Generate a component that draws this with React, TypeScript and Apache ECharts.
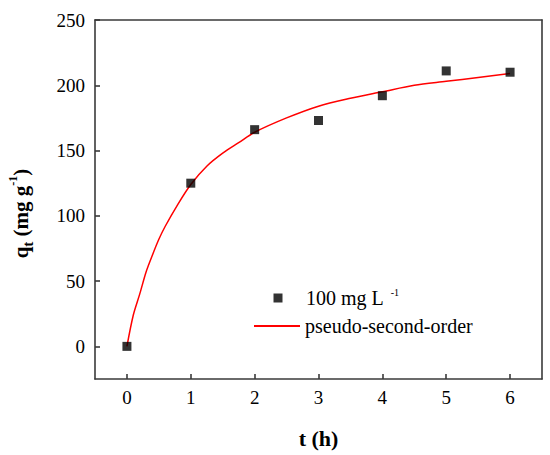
import React, { useEffect, useRef } from "react";
import * as echarts from "echarts";

const seriesNames = ["100 mg L", "pseudo-second-order"];
const timeH = [0, 1, 2, 3, 4, 5, 6];
const qtMeasured = [0, 125, 166, 173, 192, 211, 210];
const fitTime = [0, 0.1, 0.2, 0.3, 0.4, 0.5, 0.6, 0.8, 1.0, 1.25, 1.5, 1.75, 2.0, 2.5, 3.0, 3.5, 4.0, 4.5, 5.0, 5.5, 6.0];
const fitQt = [0, 24, 40, 57, 70, 82, 92, 109, 124, 138, 148, 156, 164, 175, 184, 190, 195, 200, 203, 206, 209];
const xTicks = [0, 1, 2, 3, 4, 5, 6];
const yTicks = [0, 50, 100, 150, 200, 250];

const FONT = "Liberation Serif";
const AXIS_COLOR = "#3a3a3a";

export default function App() {
  const ref = useRef<HTMLDivElement>(null);
  useEffect(() => {
    if (!ref.current) return;
    const chart = echarts.init(ref.current, null, { renderer: "svg" });
    const axisLine = { show: true, onZero: false, lineStyle: { color: AXIS_COLOR, width: 1.6 } };
    const tickStyle = { color: AXIS_COLOR, width: 1.6 };
    chart.setOption({
      animation: false,
      backgroundColor: "#ffffff",
      textStyle: { fontFamily: FONT },
      grid: { left: 95, top: 20, right: 8, bottom: 76, containLabel: false, outerBoundsMode: "none" },
      legend: [
        {
          data: [{ name: seriesNames[0], icon: "path://M0 0H10V10H0Z" }],
          left: 273.5,
          top: 287,
          padding: 0,
          itemWidth: 46,
          itemHeight: 9,
          selectedMode: false,
          formatter: (n: string) => `{n|${n} }{s|-1}`,
          textStyle: {
            fontFamily: FONT,
            color: "#000",
            rich: {
              n: { fontFamily: FONT, fontSize: 20, color: "#000", lineHeight: 22 },
              s: { fontFamily: FONT, fontSize: 10, color: "#000", lineHeight: 22, verticalAlign: "top", padding: [0, 0, 0, 2] },
            },
          },
        },
        {
          data: [{ name: seriesNames[1], icon: "path://M0 0H46V2H0Z" }],
          left: 254,
          top: 315,
          padding: 0,
          itemWidth: 46,
          itemHeight: 22,
          selectedMode: false,
          textStyle: { fontFamily: FONT, fontSize: 20, color: "#000", lineHeight: 22 },
        },
      ],
      xAxis: [
        {
          type: "value",
          min: -0.5,
          max: 6.5,
          position: "bottom",
          axisLine,
          splitLine: { show: false },
          axisTick: { show: true, inside: true, length: 5, customValues: xTicks, lineStyle: tickStyle },
          axisLabel: { customValues: xTicks, fontFamily: FONT, fontSize: 19, color: "#000", margin: 9 },
          name: "t (h)",
          nameLocation: "middle",
          nameGap: 48,
          nameTextStyle: { fontFamily: FONT, fontSize: 22, fontWeight: "bold", color: "#000" },
        },
        {
          type: "value",
          min: -0.5,
          max: 6.5,
          position: "top",
          axisLine,
          splitLine: { show: false },
          axisTick: { show: false },
          axisLabel: { show: false },
        },
      ],
      yAxis: [
        {
          type: "value",
          min: -25,
          max: 250,
          position: "left",
          axisLine,
          splitLine: { show: false },
          axisTick: { show: true, inside: true, length: 5, customValues: yTicks, lineStyle: tickStyle },
          axisLabel: { customValues: yTicks, fontFamily: FONT, fontSize: 19, color: "#000", margin: 10 },
          name: "{q|q}{sub|t}{n| (mg g}{sup|-1}{n|)}",
          nameLocation: "middle",
          nameRotate: 90,
          nameGap: 60,
          nameTextStyle: {
            fontFamily: FONT,
            color: "#000",
            padding: [0, 28, 0, 0],
            rich: {
              q: { fontFamily: FONT, fontSize: 21, fontWeight: "bold", color: "#000", lineHeight: 28 },
              n: { fontFamily: FONT, fontSize: 21, fontWeight: "bold", color: "#000", lineHeight: 28 },
              sub: { fontFamily: FONT, fontSize: 15, fontWeight: "bold", color: "#000", lineHeight: 28, verticalAlign: "bottom" },
              sup: { fontFamily: FONT, fontSize: 12, fontWeight: "bold", color: "#000", lineHeight: 28, verticalAlign: "top" },
            },
          },
        },
        {
          type: "value",
          min: -25,
          max: 250,
          position: "right",
          axisLine,
          splitLine: { show: false },
          axisTick: { show: false },
          axisLabel: { show: false },
        },
      ],
      series: [
        {
          name: seriesNames[1],
          type: "line",
          data: fitTime.map((t, i) => [t, fitQt[i]]),
          symbol: "none",
          smooth: 0.3,
          lineStyle: { color: "#ff0000", width: 1.5 },
          itemStyle: { color: "#ff0000" },
          z: 2,
        },
        {
          name: seriesNames[0],
          type: "scatter",
          data: timeH.map((t, i) => [t, qtMeasured[i]]),
          symbol: "rect",
          symbolSize: 9,
          itemStyle: { color: "#000000" },
          z: 3,
        },
      ],
    });
    return () => chart.dispose();
  }, []);
  return (
    <div
      ref={ref}
      style={{ position: "fixed", left: 0, top: 0, width: 550, height: 455, background: "#fff" }}
    />
  );
}
